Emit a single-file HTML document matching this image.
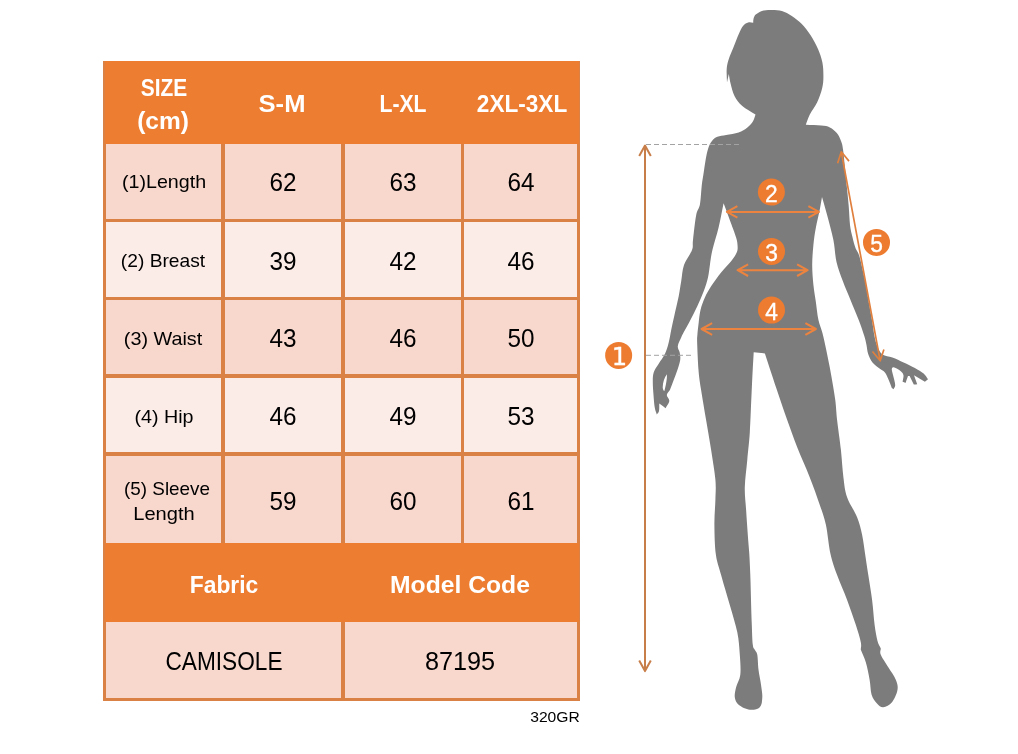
<!DOCTYPE html>
<html lang="en"><head><meta charset="utf-8"><title>Size chart</title>
<style>
html,body{margin:0;padding:0;background:#fff}
body{width:1018px;height:754px;position:relative;overflow:hidden;font-family:"Liberation Sans",sans-serif}
.tbl{position:absolute;left:0;top:0;width:1018px;height:754px}
.fr{position:absolute;left:103.1px;top:61px;width:477.3px;height:639.8px;background:#DA8245}
.hb{position:absolute;left:105px;top:61px;width:473.5px;height:82.6px;background:#ED7D31}
.fb{position:absolute;left:105px;top:543.3px;width:473.5px;height:78.9px;background:#ED7D31}
.cell{position:absolute}
.t{position:absolute;white-space:nowrap;line-height:1;color:#000;transform-origin:50% 100%}
.hd{color:#fff;font-weight:bold;font-size:24.5px}
.lb{font-size:18.5px}
.nm{font-size:25px}
.bt{font-size:25px}
.code{font-size:14.4px}
.fig{position:absolute;left:0;top:0}
.ar{fill:none;stroke:#EC8440;stroke-width:2;stroke-linejoin:round;stroke-linecap:butt}
.a1{stroke:#C87E49}
.a5{stroke:#E0803F;stroke-width:1.7}
.cn{font-family:"Liberation Sans",sans-serif;font-size:24.8px;fill:#fff;text-anchor:middle;stroke:#fff;stroke-width:.35px}
.c1{font-family:"DejaVu Sans","Liberation Sans",sans-serif;font-size:24.2px}
</style></head><body>
<div class="tbl">
<div class="fr"></div><div class="hb"></div><div class="fb"></div>
<div class="cell" style="left:106.4px;top:143.6px;width:114.8px;height:75.0px;background:#F8D7CD"></div>
<div class="cell" style="left:224.7px;top:143.6px;width:116.4px;height:75.0px;background:#F8D7CD"></div>
<div class="cell" style="left:344.6px;top:143.6px;width:116.5px;height:75.0px;background:#F8D7CD"></div>
<div class="cell" style="left:464.3px;top:143.6px;width:112.9px;height:75.0px;background:#F8D7CD"></div>
<div class="cell" style="left:106.4px;top:221.9px;width:114.8px;height:74.8px;background:#FCECE8"></div>
<div class="cell" style="left:224.7px;top:221.9px;width:116.4px;height:74.8px;background:#FCECE8"></div>
<div class="cell" style="left:344.6px;top:221.9px;width:116.5px;height:74.8px;background:#FCECE8"></div>
<div class="cell" style="left:464.3px;top:221.9px;width:112.9px;height:74.8px;background:#FCECE8"></div>
<div class="cell" style="left:106.4px;top:300px;width:114.8px;height:74.2px;background:#F8D7CD"></div>
<div class="cell" style="left:224.7px;top:300px;width:116.4px;height:74.2px;background:#F8D7CD"></div>
<div class="cell" style="left:344.6px;top:300px;width:116.5px;height:74.2px;background:#F8D7CD"></div>
<div class="cell" style="left:464.3px;top:300px;width:112.9px;height:74.2px;background:#F8D7CD"></div>
<div class="cell" style="left:106.4px;top:377.6px;width:114.8px;height:74.9px;background:#FCECE8"></div>
<div class="cell" style="left:224.7px;top:377.6px;width:116.4px;height:74.9px;background:#FCECE8"></div>
<div class="cell" style="left:344.6px;top:377.6px;width:116.5px;height:74.9px;background:#FCECE8"></div>
<div class="cell" style="left:464.3px;top:377.6px;width:112.9px;height:74.9px;background:#FCECE8"></div>
<div class="cell" style="left:106.4px;top:455.9px;width:114.8px;height:87.4px;background:#F8D7CD"></div>
<div class="cell" style="left:224.7px;top:455.9px;width:116.4px;height:87.4px;background:#F8D7CD"></div>
<div class="cell" style="left:344.6px;top:455.9px;width:116.5px;height:87.4px;background:#F8D7CD"></div>
<div class="cell" style="left:464.3px;top:455.9px;width:112.9px;height:87.4px;background:#F8D7CD"></div>
<div class="cell" style="left:106.4px;top:622.2px;width:234.7px;height:75.5px;background:#F8D7CD"></div>
<div class="cell" style="left:344.6px;top:622.2px;width:232.6px;height:75.5px;background:#F8D7CD"></div>
<span id="size" class="t hd" style="left:163.50px;top:100.00px;transform:translate(-50%,-100%) scaleX(0.8530)">SIZE</span>
<span id="cm" class="t hd" style="left:163.20px;top:132.66px;transform:translate(-50%,-100%) scaleX(1.0002)">(cm)</span>
<span id="sm" class="t hd" style="left:282.00px;top:116.00px;transform:translate(-50%,-100%) scaleX(1.0431)">S-M</span>
<span id="lxl" class="t hd" style="left:402.50px;top:116.00px;transform:translate(-50%,-100%) scaleX(0.8642)">L-XL</span>
<span id="xxl" class="t hd" style="left:521.50px;top:116.30px;transform:translate(-50%,-100%) scaleX(0.9217)">2XL-3XL</span>
<span id="l1" class="t lb" style="left:164.25px;top:191.44px;transform:translate(-50%,-100%) scaleX(1.0623)">(1)Length</span>
<span id="l2" class="t lb" style="left:163.00px;top:269.74px;transform:translate(-50%,-100%) scaleX(1.0375)">(2) Breast</span>
<span id="l3" class="t lb" style="left:163.00px;top:347.74px;transform:translate(-50%,-100%) scaleX(1.0694)">(3) Waist</span>
<span id="l4" class="t lb" style="left:163.75px;top:426.04px;transform:translate(-50%,-100%) scaleX(1.0631)">(4) Hip</span>
<span id="l5a" class="t lb" style="left:166.75px;top:497.74px;transform:translate(-50%,-100%) scaleX(1.0194)">(5) Sleeve</span>
<span id="l5b" class="t lb" style="left:164.00px;top:522.84px;transform:translate(-50%,-100%) scaleX(1.0853)">Length</span>
<span id="n00" class="t nm" style="left:283.30px;top:195.38px;transform:translate(-50%,-100%) scaleX(0.9713)">62</span>
<span id="n01" class="t nm" style="left:403.25px;top:195.38px;transform:translate(-50%,-100%) scaleX(0.9713)">63</span>
<span id="n02" class="t nm" style="left:521.15px;top:195.38px;transform:translate(-50%,-100%) scaleX(0.9713)">64</span>
<span id="n10" class="t nm" style="left:283.30px;top:273.60px;transform:translate(-50%,-100%) scaleX(0.9713)">39</span>
<span id="n11" class="t nm" style="left:403.25px;top:273.60px;transform:translate(-50%,-100%) scaleX(0.9713)">42</span>
<span id="n12" class="t nm" style="left:521.15px;top:273.60px;transform:translate(-50%,-100%) scaleX(0.9713)">46</span>
<span id="n20" class="t nm" style="left:283.30px;top:351.40px;transform:translate(-50%,-100%) scaleX(0.9713)">43</span>
<span id="n21" class="t nm" style="left:403.25px;top:351.40px;transform:translate(-50%,-100%) scaleX(0.9713)">46</span>
<span id="n22" class="t nm" style="left:521.15px;top:351.40px;transform:translate(-50%,-100%) scaleX(0.9713)">50</span>
<span id="n30" class="t nm" style="left:283.30px;top:429.35px;transform:translate(-50%,-100%) scaleX(0.9713)">46</span>
<span id="n31" class="t nm" style="left:403.25px;top:429.35px;transform:translate(-50%,-100%) scaleX(0.9713)">49</span>
<span id="n32" class="t nm" style="left:521.15px;top:429.35px;transform:translate(-50%,-100%) scaleX(0.9713)">53</span>
<span id="n40" class="t nm" style="left:283.30px;top:513.90px;transform:translate(-50%,-100%) scaleX(0.9713)">59</span>
<span id="n41" class="t nm" style="left:403.25px;top:513.90px;transform:translate(-50%,-100%) scaleX(0.9713)">60</span>
<span id="n42" class="t nm" style="left:521.15px;top:513.90px;transform:translate(-50%,-100%) scaleX(0.9713)">61</span>
<span id="fab" class="t hd" style="left:223.50px;top:596.50px;transform:translate(-50%,-100%) scaleX(0.9324)">Fabric</span>
<span id="mc" class="t hd" style="left:460.20px;top:596.80px;transform:translate(-50%,-100%) scaleX(1.0074)">Model Code</span>
<span id="cam" class="t bt" style="left:223.70px;top:673.50px;transform:translate(-50%,-100%) scaleX(0.9057)">CAMISOLE</span>
<span id="num" class="t bt" style="left:460.20px;top:674.00px;transform:translate(-50%,-100%) scaleX(1.0095)">87195</span>
<span id="gr" class="t code" style="left:554.50px;top:724.00px;transform:translate(-50%,-100%) scaleX(1.0867)">320GR</span>
</div>
<svg class="fig" width="1018" height="754" viewBox="0 0 1018 754">
<path d="M770.6 10.0C773.9 10.0 778.4 9.9 781.9 10.9C785.4 11.9 788.5 13.7 791.8 15.9C795.1 18.1 798.7 20.8 801.8 24.0C804.9 27.2 807.9 31.1 810.6 35.2C813.3 39.4 816.0 44.3 818.0 48.9C820.0 53.5 821.5 58.0 822.4 62.6C823.3 67.2 823.4 72.2 823.4 76.4C823.4 80.6 823.2 83.7 822.2 88.0C821.2 92.3 819.3 97.8 817.2 102.3C815.1 106.8 811.6 111.0 809.7 114.8C807.8 118.5 807.1 121.5 805.8 124.8C810.9 125.1 817.2 125.1 821.2 125.6C825.2 126.0 827.3 126.2 829.9 127.5C832.5 128.8 834.9 130.8 836.8 133.1C838.7 135.4 840.0 138.4 841.1 141.2C842.2 144.0 842.5 145.4 843.1 150.0C843.8 154.6 844.4 162.5 845.0 168.7C845.6 174.9 846.3 181.2 846.9 187.4C847.5 193.6 848.2 199.8 848.7 206.1C849.2 212.3 849.4 219.7 850.0 224.9C850.6 230.1 851.6 233.5 852.5 237.3C853.4 241.2 854.4 244.9 855.5 248.0C856.6 251.1 857.7 250.7 859.3 256.0C860.9 261.3 863.2 271.9 864.9 280.0C866.6 288.1 868.1 298.2 869.3 304.9C870.5 311.6 871.1 314.8 872.0 320.0C872.9 325.2 873.6 331.7 874.5 336.2C875.4 340.7 876.2 343.8 877.5 346.8C878.8 349.9 880.0 352.7 882.5 354.5C885.0 356.3 888.9 356.1 892.4 357.4C895.9 358.7 899.9 360.6 903.6 362.4C907.4 364.2 911.6 366.1 914.9 368.0C918.2 369.9 921.4 371.7 923.6 373.6C925.8 375.5 926.5 377.4 928.0 379.3C927.0 380.1 925.9 381.0 924.9 381.8C921.3 379.6 917.6 377.5 914.0 375.3C915.1 378.3 916.1 381.2 917.2 384.2C916.1 384.3 914.9 384.5 913.8 384.6C912.4 381.8 911.0 378.9 909.6 376.1C909.1 376.1 908.5 376.1 908.0 376.1C907.2 378.4 906.3 380.7 905.5 383.0C904.5 382.6 903.6 382.2 902.6 381.8C902.9 379.5 903.9 376.8 903.4 374.9C902.9 373.0 901.5 371.8 899.9 370.5C898.3 369.2 895.1 367.4 893.7 367.2C892.4 367.0 891.9 368.0 891.8 369.3C891.7 370.6 892.4 372.3 893.0 374.9C893.6 377.5 895.1 382.5 895.2 384.9C895.3 387.3 894.0 387.8 893.4 389.2C892.9 388.8 892.3 388.4 891.8 388.0C890.8 385.3 889.9 382.5 888.7 379.9C887.6 377.3 886.4 374.3 884.9 372.4C883.4 370.5 882.0 370.4 879.9 368.7C877.8 367.0 874.5 364.9 872.5 362.4C870.5 359.9 869.1 356.6 868.1 353.7C867.1 350.8 867.1 347.9 866.5 345.0C865.9 342.1 865.6 340.3 864.3 336.1C863.0 331.9 861.1 326.1 858.7 319.9C856.3 313.7 852.6 305.2 850.0 298.7C847.4 292.2 845.0 287.1 842.8 281.0C840.5 274.9 838.1 268.9 836.5 262.0C834.9 255.2 835.0 247.7 833.4 239.9C831.8 232.1 829.0 222.2 827.1 215.0C825.2 207.8 823.7 203.0 822.0 197.0C821.2 201.3 820.7 204.9 819.7 210.0C818.7 215.1 817.0 221.6 815.9 227.4C814.8 233.2 814.0 238.7 813.4 244.9C812.8 251.2 812.2 258.2 812.2 264.9C812.2 271.5 812.8 278.6 813.4 284.8C814.0 291.0 815.1 296.5 815.9 302.3C816.7 308.1 817.3 314.7 818.4 319.7C819.5 324.7 821.0 327.7 822.3 332.5C823.6 337.3 824.8 342.9 826.0 348.7C827.2 354.5 828.6 361.4 829.8 367.4C830.9 373.4 832.0 379.3 832.9 384.9C833.8 390.5 834.7 395.3 835.4 401.1C836.1 406.9 836.2 411.8 837.1 419.9C838.0 428.0 839.9 440.2 840.9 449.8C841.9 459.4 842.4 469.4 843.4 477.3C844.4 485.2 844.8 490.5 847.1 497.2C849.4 503.9 854.6 511.0 857.1 517.2C859.6 523.5 860.8 528.6 862.1 534.7C863.4 540.8 864.1 547.3 865.1 554.0C866.1 560.7 867.1 567.4 868.3 575.0C869.5 582.6 871.0 591.6 872.1 599.9C873.2 608.2 873.7 617.9 874.6 624.8C875.5 631.7 876.5 637.1 877.5 641.1C878.5 645.1 879.7 646.1 880.8 648.6C880.8 650.7 879.5 651.7 880.8 654.8C882.0 657.9 885.8 663.1 888.3 667.3C890.8 671.4 894.3 676.0 895.8 679.7C897.3 683.4 898.1 686.0 897.5 689.7C896.9 693.5 894.4 699.3 892.0 702.2C889.6 705.1 885.8 707.0 883.3 707.2C880.8 707.4 879.0 705.5 877.0 703.4C875.0 701.3 872.8 698.7 871.6 694.7C870.4 690.8 870.6 685.1 869.6 679.7C868.6 674.3 867.3 667.3 865.8 662.3C864.3 657.3 862.5 654.0 860.8 649.8C860.8 647.3 861.6 646.5 860.8 642.3C860.0 638.1 858.1 631.9 855.8 624.8C853.5 617.7 850.2 608.2 847.1 599.9C844.0 591.6 839.9 582.6 837.1 575.0C834.3 567.4 832.4 562.4 830.5 554.0C828.6 545.6 827.7 532.9 825.9 524.7C824.1 516.5 822.4 512.6 819.7 504.7C817.0 496.8 813.5 486.9 809.7 477.3C806.0 467.7 801.0 456.9 797.2 447.3C793.5 437.7 790.3 428.6 787.2 419.9C784.1 411.2 781.3 402.8 778.6 394.9C775.9 387.0 773.4 379.3 771.1 372.4C768.8 365.5 767.0 359.7 764.9 353.4C761.2 353.0 757.4 352.6 753.7 352.2C753.4 358.1 753.1 362.8 752.7 369.9C752.3 377.0 752.0 384.6 751.5 395.0C751.0 405.4 750.5 421.6 749.8 432.4C749.1 443.2 748.1 450.6 747.3 459.8C746.5 469.0 745.0 479.0 744.8 487.3C744.6 495.6 745.6 501.8 746.1 509.7C746.6 517.6 747.3 527.3 747.8 534.7C748.3 542.1 748.9 547.3 749.3 554.0C749.7 560.7 750.0 567.4 750.3 575.0C750.6 582.6 750.8 591.6 751.0 599.9C751.2 608.2 751.5 617.3 751.8 624.8C752.1 632.3 752.3 640.6 752.8 644.8C753.3 649.0 754.0 648.1 754.8 649.8C755.5 651.5 756.7 651.5 757.3 654.8C757.9 658.1 757.9 664.8 758.5 669.8C759.1 674.8 760.4 680.1 761.0 684.7C761.6 689.3 762.5 693.5 762.3 697.2C762.1 701.0 761.9 705.1 759.8 707.2C757.7 709.3 753.3 710.1 749.8 709.7C746.3 709.3 741.1 706.8 738.6 704.7C736.1 702.6 735.2 700.1 734.8 697.2C734.4 694.3 735.2 690.9 736.1 687.2C737.0 683.5 739.7 680.2 740.3 674.8C740.9 669.4 740.3 661.9 739.8 654.8C739.3 647.7 739.0 640.6 737.3 632.3C735.6 624.0 732.5 614.4 729.8 604.9C727.1 595.4 723.4 583.5 721.1 575.0C718.8 566.5 716.9 562.4 715.8 554.0C714.7 545.6 714.5 533.8 714.4 524.7C714.3 515.7 715.2 507.2 715.4 499.7C715.6 492.2 716.1 488.1 715.4 479.8C714.7 471.5 712.6 459.8 711.1 449.8C709.6 439.8 707.8 429.9 706.1 419.9C704.4 409.9 702.4 398.3 701.1 390.0C699.8 381.7 699.1 377.7 698.5 370.0C697.9 362.3 697.4 349.8 697.2 343.9C697.0 338.0 697.1 338.4 697.4 334.8C697.6 331.2 698.2 326.5 698.7 322.4C699.2 318.2 699.5 314.1 700.5 309.9C701.5 305.7 703.1 301.3 704.9 297.4C706.7 293.4 708.4 290.3 711.1 286.2C713.8 282.1 717.8 276.7 721.1 272.5C724.4 268.3 728.5 264.5 731.1 261.2C733.7 257.9 735.6 255.0 736.7 252.5C737.8 250.0 737.7 248.5 737.6 246.0C737.5 243.5 737.4 241.8 736.1 237.4C734.8 233.1 731.9 225.6 729.8 219.9C727.7 214.2 725.7 208.8 723.6 203.3C721.9 211.3 720.5 219.6 718.6 227.4C716.7 235.2 713.9 243.7 712.4 250.0C710.9 256.3 710.6 260.4 709.9 265.0C709.2 269.6 709.0 273.0 708.0 277.4C707.0 281.8 705.5 286.4 703.7 291.2C701.9 296.0 699.7 301.1 697.4 306.1C695.1 311.1 692.2 316.7 689.9 321.1C687.6 325.5 685.2 329.6 683.7 332.3C682.2 335.0 682.2 335.2 681.2 337.5C680.2 339.8 678.0 343.7 677.8 346.2C677.5 348.7 679.3 350.2 679.7 352.5C680.1 354.8 680.6 357.0 680.2 359.9C679.8 362.8 678.5 366.6 677.4 369.9C676.3 373.2 675.0 376.6 673.7 379.9C672.5 383.2 671.2 386.6 669.9 389.9C668.9 391.6 666.9 393.0 666.8 394.9C666.7 396.8 669.5 398.9 669.3 401.1C669.1 403.3 666.8 405.9 665.6 408.3C663.5 406.7 661.4 405.2 659.3 403.6C659.2 406.1 659.4 409.3 659.0 411.1C658.6 412.9 657.5 413.4 656.8 414.6C656.1 412.2 655.2 410.6 654.7 407.3C654.2 404.0 653.8 399.0 653.5 394.9C653.2 390.8 652.8 386.1 652.8 382.4C652.8 378.6 652.7 375.5 653.7 372.4C654.7 369.3 656.8 366.8 658.7 363.7C660.6 360.6 663.3 357.2 665.0 353.7C666.7 350.2 667.7 346.4 668.7 342.5C669.7 338.6 670.2 335.0 671.2 330.0C672.2 325.0 673.8 318.0 675.0 312.4C676.2 306.8 677.7 301.4 678.7 296.2C679.7 291.0 680.3 286.4 681.2 281.2C682.1 276.0 682.2 270.2 684.0 265.0C685.8 259.8 690.5 254.2 692.0 250.0C693.5 245.8 692.3 245.7 693.0 239.9C693.7 234.1 695.0 221.0 696.2 215.0C697.4 209.0 699.1 208.9 700.0 203.9C700.9 198.9 701.2 190.2 701.8 184.9C702.4 179.7 703.1 176.6 703.7 172.4C704.3 168.2 704.9 163.9 705.6 159.9C706.3 155.9 707.1 151.8 708.1 148.7C709.1 145.6 710.2 143.2 711.8 141.2C713.3 139.2 715.0 137.8 717.4 136.8C719.8 135.8 722.7 135.7 726.2 135.0C729.7 134.3 735.1 133.8 738.6 132.5C742.1 131.2 745.0 129.4 747.4 127.5C749.8 125.6 751.6 123.4 753.0 121.2C754.4 119.0 754.7 116.7 755.5 114.5C751.1 111.7 745.8 109.1 742.3 106.0C738.8 102.9 736.4 99.7 734.5 96.0C732.6 92.3 731.7 87.7 730.7 84.0C729.8 80.3 729.4 77.3 728.8 73.9C728.2 76.8 727.6 79.7 727.0 82.6C726.9 78.0 726.4 72.9 726.7 68.9C727.0 65.0 727.6 62.6 728.8 58.9C730.0 55.1 732.1 50.6 733.8 46.4C735.5 42.2 737.2 37.3 738.8 33.9C740.4 30.5 741.6 27.7 743.2 25.8C744.8 23.9 746.5 23.0 748.2 22.5C749.9 22.0 751.5 22.6 753.2 22.7C753.3 21.5 753.1 20.4 753.5 19.0C753.9 17.6 754.3 15.9 755.7 14.6C757.1 13.2 759.4 11.7 761.9 10.9C764.4 10.1 767.3 10.0 770.6 10.0ZM666.8 374.3C664.5 377.5 662.9 382 662.7 387.4C663 389.5 663.6 390.6 664.4 391.1C665 388.5 665.4 386.5 665.8 384.9C666.5 381 667.2 378 666.8 374.3Z" fill="#7C7C7C" fill-rule="evenodd"/>
<path d="M646 144.5H740M646 355.3H691" stroke="#A3A3A3" stroke-width="1" stroke-dasharray="5 3" fill="none"/>
<path d="M645.0 145.6L645.0 671.1M650.8 156.1L645.0 145.6L639.2 156.1M639.2 660.6L645.0 671.1L650.8 660.6" class="ar a1"/>
<path d="M726.9 211.9L818.9 211.9M737.4 206.1L726.9 211.9L737.4 217.7M808.4 217.7L818.9 211.9L808.4 206.1" class="ar"/>
<path d="M737.6 270.2L807.6 270.2M748.1 264.4L737.6 270.2L748.1 276.0M797.1 276.0L807.6 270.2L797.1 264.4" class="ar"/>
<path d="M701.6 329.0L815.9 329.0M712.1 323.2L701.6 329.0L712.1 334.8M805.4 334.8L815.9 329.0L805.4 323.2" class="ar"/>
<path d="M841.3 151.8L880.2 360.8M849.0 161.1L841.3 151.8L837.6 163.2M872.5 351.5L880.2 360.8L883.9 349.4" class="ar a5"/>
<circle cx="618.65" cy="355.4" r="13.5" fill="#ED7B30"/><text transform="translate(619.35 365.00) scale(1.0 1)" x="0" y="0" class="cn c1">1</text>
<circle cx="771.4" cy="192.1" r="13.5" fill="#ED7B30"/><text transform="translate(771.40 201.70) scale(0.92 1)" x="0" y="0" class="cn">2</text>
<circle cx="771.5" cy="251.4" r="13.5" fill="#ED7B30"/><text transform="translate(771.50 261.00) scale(0.92 1)" x="0" y="0" class="cn">3</text>
<circle cx="771.5" cy="310.1" r="13.5" fill="#ED7B30"/><text transform="translate(771.50 319.70) scale(0.92 1)" x="0" y="0" class="cn">4</text>
<circle cx="876.5" cy="242.4" r="13.5" fill="#ED7B30"/><text transform="translate(876.50 252.00) scale(0.92 1)" x="0" y="0" class="cn">5</text>
</svg>
</body></html>
